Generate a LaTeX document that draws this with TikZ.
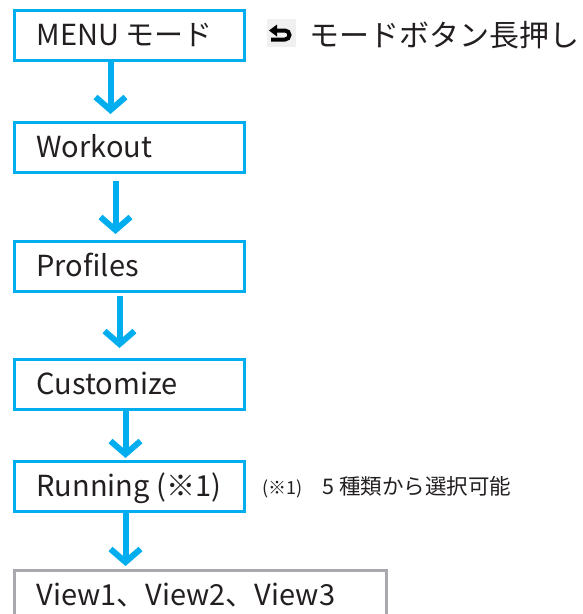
\documentclass[tikz,border=0pt]{standalone}
\usepackage{fontspec}
\setmainfont{Noto Sans CJK JP}
\usetikzlibrary{arrows.meta}
\definecolor{flowblue}{HTML}{00AEEF}
\definecolor{boxgrey}{HTML}{A7A9AC}
\definecolor{txt}{HTML}{231F20}
\begin{document}
\begin{tikzpicture}[x=1pt,y=-1pt,
  flowbox/.style={draw=flowblue, line width=3pt, anchor=north west, minimum height=50pt,
    inner xsep=22pt, inner ysep=0pt, text=txt, text height=20pt, text depth=0pt,
    font=\fontsize{29}{34}\selectfont},
  flowarr/.style={draw=flowblue, line width=6pt,
    -{Straight Barb[length=13pt,width=30pt]}},
]
\useasboundingbox (0,0) rectangle (583,614);
\node[flowbox] (m1) at (13,9) {\makebox[186pt][l]{MENU モード}};
\node[flowbox] (m2) at (13,121) {\makebox[186pt][l]{Workout}};
\node[flowbox] (m3) at (13,240) {\makebox[186pt][l]{Profiles}};
\node[flowbox] (m4) at (13,358) {\makebox[186pt][l]{Customize}};
\node[flowbox] (m5) at (13,460) {\makebox[186pt][l]{Running (※1)}};
\node[flowbox, draw=boxgrey] (m6) at (13,569) {\makebox[328pt][l]{View1、View2、View3}};

\coordinate (a1) at ([xshift=-19pt]m1.south);
\coordinate (a2) at ([xshift=-14pt]m2.south);
\coordinate (a3) at ([xshift=-10pt]m3.south);
\coordinate (a4) at ([xshift=-4pt]m4.south);
\coordinate (a5) at ([xshift=-4pt]m5.south);
\draw[flowarr, shorten >=7pt] (a1) -- (a1 |- m2.north);
\draw[flowarr, shorten <=7pt, shorten >=6pt] (a2) -- (a2 |- m3.north);
\draw[flowarr, shorten <=3pt, shorten >=10pt] (a3) -- (a3 |- m4.north);
\draw[flowarr, shorten >=2pt] (a4) -- (a4 |- m5.north);
\draw[flowarr, shorten >=3pt] (a5) -- (a5 |- m6.north);

% back icon
\fill[black!6] (267,19) rectangle (296,47);
\draw[black, line width=4pt] (275,30.5) -- (285,30.5) arc[start angle=-90, end angle=90, radius=4.5] -- (271,39.5);
\fill[black] (269,30.5) -- (277,24.5) -- (277,36.5) -- cycle;
\node[anchor=west, inner sep=0pt, text=txt, font=\fontsize{30}{36}\selectfont] (hold) at (309,35) {モードボタン長押し};

\node[anchor=west, inner sep=0pt, text=txt, font=\fontsize{18}{22}\selectfont] (note) at (262,487) {(※1)\hspace{20pt}{\fontsize{21.5}{24}\selectfont 5 種類から選択可能}};
\end{tikzpicture}
\end{document}
